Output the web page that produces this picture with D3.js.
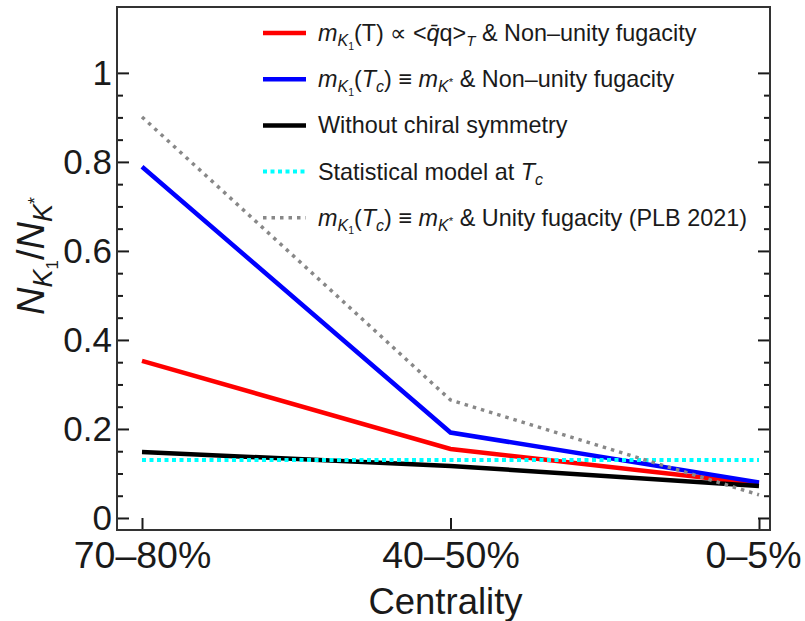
<!DOCTYPE html>
<html>
<head>
<meta charset="utf-8">
<script src="https://cdn.jsdelivr.net/npm/d3@7"></script>
<style>
  body { margin: 0; background: #fff; }
  svg text { font-family: "Liberation Sans", Arial, sans-serif; fill: #1a1a1a; }
</style>
</head>
<body>
<svg id="chart" width="805" height="621"></svg>
<script>
// data
const categories = ["70–80%", "40–50%", "0–5%"];
const redVals   = [0.353, 0.155, 0.077];
const blueVals  = [0.789, 0.192, 0.080];
const blackVals = [0.148, 0.117, 0.072];
const cyanVals  = [0.130, 0.130, 0.130];
const grayVals  = [0.901, 0.265, 0.052];

const yMajor = [0, 0.2, 0.4, 0.6, 0.8, 1];
const yTickLabels = ["0", "0.2", "0.4", "0.6", "0.8", "1"];
const yMinor = [0.05, 0.1, 0.15, 0.25, 0.3, 0.35, 0.45, 0.5, 0.55, 0.65, 0.7, 0.75, 0.85, 0.9, 0.95];

const frame = { left: 117, right: 770, top: 7, bottom: 530 };

const svg = d3.select('#chart');

const x = d3.scalePoint().domain(categories).range([142, 759]);
const y = d3.scaleLinear().domain([-0.027, 1.148]).range([frame.bottom, frame.top]);

// text with sub/superscripts: segments carry a baseline offset
function rich(text, segs) {
  let prev = 0;
  segs.forEach(s => {
    const off = s.off || 0;
    text.append('tspan')
      .attr('dy', off - prev)
      .attr('font-size', s.sz)
      .attr('font-style', s.it ? 'italic' : null)
      .text(s.t);
    prev = off;
  });
}

// axes
function styleAxis(g) {
  g.select('.domain').remove();
  g.selectAll('.tick line').attr('stroke', '#1a1a1a').attr('stroke-width', 2);
}

svg.append('g').attr('transform', `translate(${frame.left},0)`)
  .call(d3.axisLeft(y).tickValues(yMajor).tickSize(-12).tickPadding(5)
    .tickFormat((d, i) => yTickLabels[i]))
  .call(styleAxis)
  .call(g => g.selectAll('text').attr('font-size', 35).attr('font-family', null).attr('fill', null));

svg.append('g').attr('transform', `translate(${frame.left},0)`)
  .call(d3.axisLeft(y).tickValues(yMinor).tickSize(-6).tickFormat(''))
  .call(styleAxis);

svg.append('g').attr('transform', `translate(${frame.right},0)`)
  .call(d3.axisRight(y).tickValues(yMajor).tickSize(-12).tickFormat(''))
  .call(styleAxis);

svg.append('g').attr('transform', `translate(${frame.right},0)`)
  .call(d3.axisRight(y).tickValues(yMinor).tickSize(-6).tickFormat(''))
  .call(styleAxis);

svg.append('g').attr('transform', `translate(0,${frame.bottom})`)
  .call(d3.axisBottom(x).tickSize(-12).tickPadding(0))
  .call(styleAxis)
  .call(g => g.selectAll('text').attr('font-size', 37.5).attr('font-family', null).attr('fill', null)
    .attr('dy', null).attr('y', 38))
  // the last label sits against the right edge of the page
  .call(g => g.selectAll('.tick:last-of-type text').attr('text-anchor', 'end').attr('x', 42));

svg.append('rect')
  .attr('x', frame.left).attr('y', frame.top)
  .attr('width', frame.right - frame.left).attr('height', frame.bottom - frame.top)
  .attr('fill', 'none').attr('stroke', '#333').attr('stroke-width', 2);

// series
const line = d3.line().x((d, i) => x(categories[i])).y(d => y(d));
const series = [
  { vals: redVals,   color: '#ff0000', w: 4.5, dash: null },
  { vals: blueVals,  color: '#0000ff', w: 4.5, dash: null },
  { vals: blackVals, color: '#000000', w: 4.5, dash: null },
  { vals: cyanVals,  color: '#00ffff', w: 4,   dash: '4,3.5' },
  { vals: grayVals,  color: '#888888', w: 3.5, dash: '3.5,5' }
];
svg.append('g').selectAll('path').data(series).join('path')
  .attr('d', d => line(d.vals))
  .attr('fill', 'none')
  .attr('stroke', d => d.color)
  .attr('stroke-width', d => d.w)
  .attr('stroke-dasharray', d => d.dash);

// legend
const fs = 23.4;
const mK1 = [
  { t: 'm', it: true, sz: fs },
  { t: 'K', it: true, sz: 16, off: 5 },
  { t: '1', sz: 10.5, off: 8.5 }
];
const mKstar = [
  { t: 'm', it: true, sz: fs },
  { t: 'K', it: true, sz: 16, off: 5 },
  { t: '*', sz: 11.5, off: -1 }
];
const Tc = [
  { t: 'T', it: true, sz: fs },
  { t: 'c', it: true, sz: 16, off: 5 }
];
const legendSegs = [
  [...mK1, { t: '(T) ∝ <', sz: fs }, { t: 'q̄', it: true, sz: fs }, { t: 'q>', sz: fs },
    { t: 'T', it: true, sz: 15, off: 5 }, { t: ' & Non–unity fugacity', sz: fs }],
  [...mK1, { t: '(', sz: fs }, ...Tc, { t: ') ≡ ', sz: fs }, ...mKstar, { t: ' & Non–unity fugacity', sz: fs }],
  [{ t: 'Without chiral symmetry', sz: fs }],
  [{ t: 'Statistical model at ', sz: fs }, ...Tc],
  [...mK1, { t: '(', sz: fs }, ...Tc, { t: ') ≡ ', sz: fs }, ...mKstar, { t: ' & Unity fugacity (PLB 2021)', sz: fs }]
];

const leg = svg.append('g').selectAll('g').data(series).join('g')
  .attr('transform', (d, i) => `translate(263,${33 + i * 46.2})`);
leg.append('line')
  .attr('x1', 0).attr('x2', 43)
  .attr('stroke', d => d.color)
  .attr('stroke-width', d => d.w)
  .attr('stroke-dasharray', d => d.dash);
leg.append('text').attr('x', 55).attr('y', 8)
  .each(function (d, i) { rich(d3.select(this), legendSegs[i]); });

// axis titles
svg.append('text').attr('x', (frame.left + frame.right) / 2 + 2).attr('y', 614)
  .attr('text-anchor', 'middle').attr('font-size', 36.5).text('Centrality');

const yTitle = svg.append('text')
  .attr('transform', 'translate(44,256) rotate(-90)')
  .attr('text-anchor', 'middle');
rich(yTitle, [
  { t: 'N', it: true, sz: 38 },
  { t: 'K', it: true, sz: 27, off: 8 },
  { t: '1', sz: 17, off: 14 },
  { t: '/', sz: 38 },
  { t: 'N', it: true, sz: 38 },
  { t: 'K', it: true, sz: 27, off: 8 },
  { t: '*', sz: 18, off: -3 }
]);
</script>
</body>
</html>
